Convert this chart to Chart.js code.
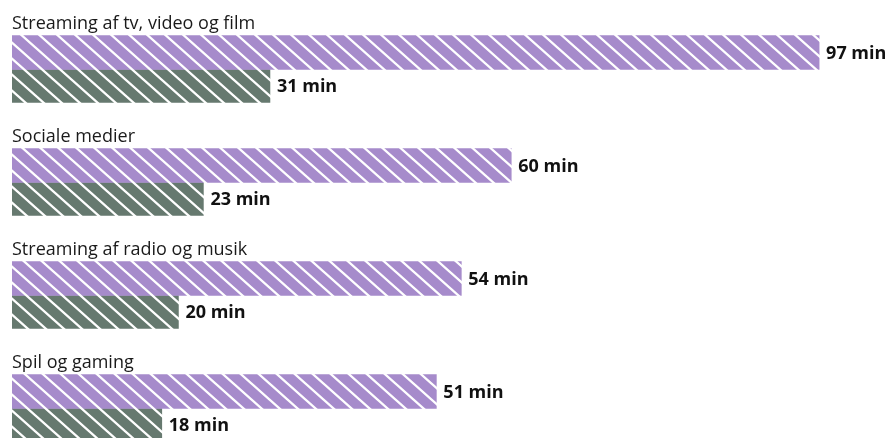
<!DOCTYPE html>
<html>
<head>
<meta charset="utf-8">
<script src="https://cdn.jsdelivr.net/npm/chart.js@4"></script>
<style>
  body { margin: 0; background: #fff; overflow: hidden; }
</style>
</head>
<body>
<canvas id="myChart" width="894" height="465"></canvas>
<script>
const categories = ['Streaming af tv, video og film', 'Sociale medier', 'Streaming af radio og musik', 'Spil og gaming'];
const seriesA = [97, 60, 54, 51];
const seriesB = [31, 23, 20, 18];

// diagonal white stripes on a base colour
const hatch = (color) => {
  const w = 18, h = 16;
  const c = document.createElement('canvas');
  c.width = w; c.height = h;
  const g = c.getContext('2d');
  g.fillStyle = color;
  g.fillRect(0, 0, w, h);
  g.strokeStyle = '#fff';
  g.lineWidth = 2.3;
  g.beginPath();
  [-w, 0, w].forEach(o => {
    g.moveTo(o - w / 4, -h / 4);
    g.lineTo(o + w + w / 4, h + h / 4);
  });
  g.stroke();
  return g.createPattern(c, 'repeat');
};

const labelsPlugin = {
  id: 'labels',
  afterDatasetsDraw(chart) {
    const ctx = chart.ctx;
    ctx.save();
    ctx.fillStyle = '#111';
    ctx.textBaseline = 'middle';
    ctx.textAlign = 'left';
    ctx.font = 'bold 18px "Open Sans"';
    chart.data.datasets.forEach((ds, i) => {
      chart.getDatasetMeta(i).data.forEach((el, j) => {
        ctx.fillText(ds.data[j] + ' min', el.x + 7, el.y + 1);
      });
    });
    ctx.font = '18px "Open Sans"';
    ctx.fillStyle = '#1a1a1a';
    ctx.textBaseline = 'alphabetic';
    const y = chart.scales.y;
    categories.forEach((c, j) => {
      ctx.fillText(c, chart.chartArea.left, y.getPixelForValue(j) - 34 - 7);
    });
    ctx.restore();
  }
};

const ctx = document.getElementById('myChart').getContext('2d');
const myChart = new Chart(ctx, {
  type: 'bar',
  data: {
    labels: categories,
    datasets: [{
      data: seriesA,
      backgroundColor: hatch('#a68bcb'),
      barThickness: 34
    }, {
      data: seriesB,
      backgroundColor: hatch('#66796f'),
      barThickness: 33
    }]
  },
  options: {
    indexAxis: 'y',
    responsive: false,
    animation: false,
    layout: { padding: { left: 12, top: 13, right: 0, bottom: 0 } },
    plugins: { legend: { display: false }, tooltip: { enabled: false } },
    scales: {
      x: { display: false, min: 0, max: 106 },
      y: { display: false }
    }
  },
  plugins: [labelsPlugin]
});
</script>
</body>
</html>
